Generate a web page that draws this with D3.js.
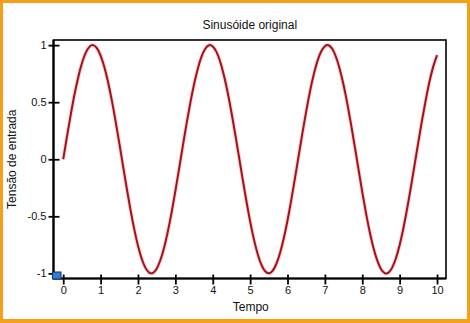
<!DOCTYPE html>
<html><head><meta charset="utf-8">
<script src="https://cdn.jsdelivr.net/npm/d3@7"></script>
<style>
html,body{margin:0;padding:0;background:#fff;}
svg text{font-family:"Liberation Sans",Arial,sans-serif;fill:#111;}
</style></head>
<body><svg id="c" width="470" height="323"></svg>
<script>
const title = "Sinusóide original";
const xLabel = "Tempo";
const yLabel = "Tensão de entrada";
const xTicks = [0,1,2,3,4,5,6,7,8,9,10];
const yTicks = [-1,-0.5,0,0.5,1];
const yTickLabels = ["-1","-0.5","0","0.5","1"];
const tStart = 0, tStep = 0.1;
const voltage = [
 0.000,0.199,0.389,0.565,0.717,0.841,0.932,0.985,1.000,0.974,
 0.909,0.808,0.675,0.516,0.335,0.141,-0.058,-0.256,-0.443,-0.612,
 -0.757,-0.872,-0.952,-0.994,-0.996,-0.959,-0.883,-0.773,-0.631,-0.465,
 -0.279,-0.083,0.117,0.312,0.494,0.657,0.794,0.899,0.968,0.999,
 0.989,0.941,0.855,0.734,0.585,0.412,0.223,0.025,-0.174,-0.366,
 -0.544,-0.700,-0.828,-0.924,-0.981,-1.000,-0.979,-0.918,-0.822,-0.693,
 -0.537,-0.358,-0.165,0.033,0.231,0.420,0.592,0.740,0.860,0.944,
 0.991,0.999,0.966,0.894,0.787,0.650,0.488,0.305,0.110,-0.089,
 -0.288,-0.472,-0.638,-0.778,-0.886,-0.961,-0.997,-0.994,-0.950,-0.868,
 -0.751,-0.604,-0.434,-0.246,-0.048,0.150,0.344,0.523,0.683,0.814,
 0.913
];
const data = voltage.map((v,i)=>({t: +(tStart + i*tStep).toFixed(2), v}));

const svg = d3.select("#c");
// orange frame
svg.append("rect").attr("x",0).attr("y",0).attr("width",470).attr("height",323).attr("fill","#f59f1b");
svg.append("rect").attr("x",3).attr("y",3).attr("width",464).attr("height",316).attr("fill","#fff");

const L=53.5, R=446, T=40, B=278.5;
const x = d3.scaleLinear().domain([-0.26,10.24]).range([L,R]);
const y = d3.scaleLinear().domain([-1.045,1.045]).range([B,T]);

// curve
const line = d3.line().x(d=>x(d.t)).y(d=>y(d.v)).curve(d3.curveNatural);
svg.append("path").datum(data).attr("d",line).attr("fill","none")
  .attr("stroke","#f2b8b8").attr("stroke-width",4).attr("stroke-opacity",0.6);
svg.append("path").datum(data).attr("d",line).attr("fill","none")
  .attr("stroke","#a3121c").attr("stroke-width",2);

// frame box
svg.append("rect").attr("x",L).attr("y",T).attr("width",R-L).attr("height",B-T)
  .attr("fill","none").attr("stroke","#000").attr("stroke-width",1.6);
svg.append("line").attr("x1",L).attr("x2",L).attr("y1",T).attr("y2",B).attr("stroke","#000").attr("stroke-width",2.2);
svg.append("line").attr("x1",L).attr("x2",R).attr("y1",B).attr("y2",B).attr("stroke","#000").attr("stroke-width",2.2);

// x axis
const xAxis = d3.axisBottom(x).tickValues(xTicks).tickSize(7).tickPadding(4).tickFormat(d3.format("d"));
const gx = svg.append("g").attr("transform",`translate(0,${B})`).call(xAxis);
gx.select(".domain").remove();
gx.selectAll(".tick line").attr("y1",-4).attr("y2",6).attr("stroke","#000").attr("stroke-width",1.8);
gx.selectAll(".tick text").attr("font-size",11).attr("font-family","Liberation Sans, Arial, sans-serif").attr("fill","#111").attr("dy","0.71em").attr("y",8);

// y axis
const yAxis = d3.axisLeft(y).tickValues(yTicks).tickSize(5).tickPadding(3)
  .tickFormat((d,i)=>yTickLabels[i]);
const gy = svg.append("g").attr("transform",`translate(${L},0)`).call(yAxis);
gy.select(".domain").remove();
gy.selectAll(".tick line").attr("x1",-5).attr("x2",6).attr("stroke","#000").attr("stroke-width",1.8);
gy.selectAll(".tick text").attr("font-size",11).attr("font-family","Liberation Sans, Arial, sans-serif").attr("fill","#111").attr("x",-7);

// corner marker
svg.append("rect").attr("x",L-1).attr("y",B-6.5).attr("width",8.5).attr("height",7)
  .attr("fill","#2b7fd8").attr("stroke","#16335e").attr("stroke-width",1);

// labels
svg.append("text").attr("x",(L+R)/2).attr("y",28.5).attr("text-anchor","middle").attr("font-size",12).text(title);
svg.append("text").attr("x",(L+R)/2+1).attr("y",311).attr("text-anchor","middle").attr("font-size",12).text(xLabel);
svg.append("text").attr("transform",`translate(15.5,${(T+B)/2}) rotate(-90)`).attr("text-anchor","middle").attr("font-size",12).text(yLabel);
</script></body></html>
